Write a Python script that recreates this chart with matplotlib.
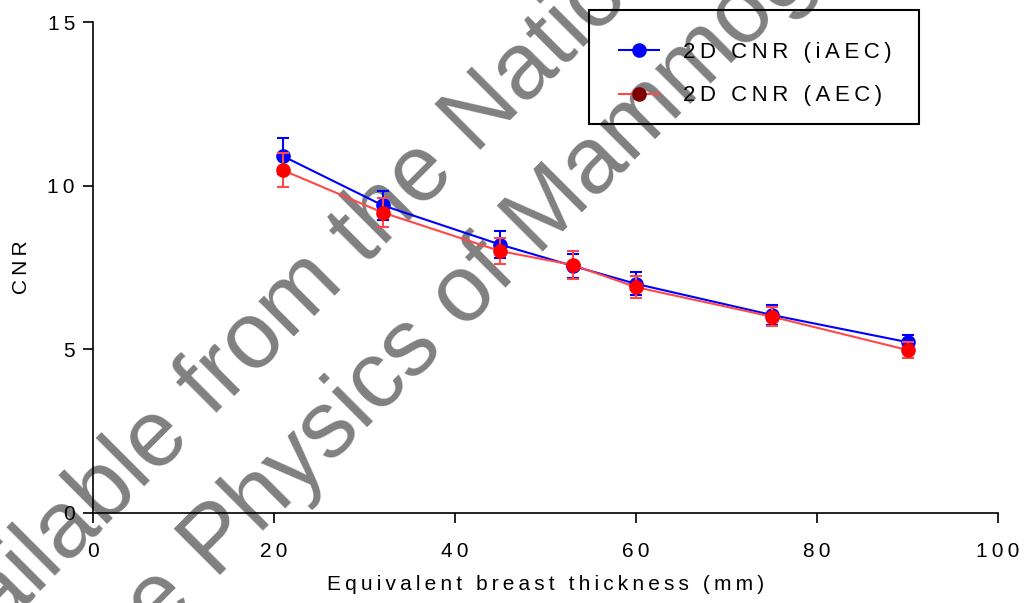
import numpy as np
import matplotlib.pyplot as plt
from matplotlib.lines import Line2D
from matplotlib.patches import Rectangle

plt.rcParams['font.family'] = ['Liberation Sans', 'DejaVu Sans']

# thickness (mm) and CNR values
thickness = [21, 32, 45, 53, 60, 75, 90]
cnr_iaec = [10.9, 9.4, 8.2, 7.55, 7.0, 6.05, 5.22]
err_iaec = [0.55, 0.45, 0.4, 0.36, 0.35, 0.3, 0.22]
cnr_aec = [10.47, 9.18, 8.0, 7.58, 6.9, 6.0, 4.98]
err_aec = [0.52, 0.45, 0.4, 0.42, 0.34, 0.29, 0.23]

xticks = [0, 20, 40, 60, 80, 100]
yticks = [0, 5, 10, 15]


def spaced(s):
    # crude letter spacing with thin spaces
    return '\u2009'.join(s)


def figpt(x, y):
    # pixel position (from top-left) -> figure fraction
    return x / 1024, 1 - y / 603


fig = plt.figure(figsize=(10.24, 6.03), dpi=100)
ax = fig.add_axes([93 / 1024, 1 - 513 / 603, 905 / 1024, 491 / 603])
ax.patch.set_alpha(0)

# watermark, drawn behind the axes
wm = dict(color='#808080', fontsize=68, rotation=45, rotation_mode='anchor',
          va='baseline', zorder=-1)
fig.text(*figpt(212, 419), 'from the National Coordinating Centre', ha='left', **wm)
fig.text(*figpt(193, 438), 'Available', ha='right', **wm)
fig.text(*figpt(215, 580), 'Physics of Mammography', ha='left', **wm)
fig.text(*figpt(196, 599), 'the', ha='right', **wm)

blue = '#0000ff'
red_line = '#ff4848'

ax.errorbar(thickness, cnr_iaec, yerr=err_iaec, color=blue, lw=1.5,
            marker='o', ms=9.5, mfc=blue, mec=blue, ecolor=blue,
            elinewidth=1.5, capsize=4.5, capthick=1.5, zorder=3)
ax.errorbar(thickness, cnr_aec, yerr=err_aec, color=red_line, lw=1.5,
            marker='o', ms=9.5, mfc='#ff0000', mec='#ff0000', ecolor=red_line,
            elinewidth=1.5, capsize=4.5, capthick=1.5, zorder=4)

ax.set_xlim(0, 100)
ax.set_ylim(0, 15)
ax.set_xticks(xticks)
ax.set_yticks(yticks)
ax.set_xticklabels([spaced(str(t)) for t in xticks])
ax.set_yticklabels([spaced(str(t)) for t in yticks])
for side in ['top', 'right']:
    ax.spines[side].set_visible(False)
for side in ['left', 'bottom']:
    ax.spines[side].set_linewidth(1.2)
ax.tick_params(direction='out', length=7, width=1.2, labelsize=15, pad=6)
ax.tick_params(axis='x', pad=14)

ax.set_xlabel(spaced('Equivalent breast thickness (mm)'), fontsize=15, labelpad=10)
ax.set_ylabel(spaced('CNR'), fontsize=15, labelpad=12)

# legend box drawn by hand so the entries can sit where the reference has them
fig.add_artist(Rectangle(figpt(589, 124), 330 / 1024, 114 / 603,
                         transform=fig.transFigure, fill=False,
                         ec='black', lw=1.5, zorder=5))
handles = [
    Line2D([], [], color=blue, lw=1.5, marker='o', ms=9.5, mfc=blue, mec=blue),
    Line2D([], [], color=red_line, lw=1.5, marker='o', ms=9.5, mfc='#800000', mec='#800000'),
]
labels = [spaced('2D CNR (iAEC)'), spaced('2D CNR (AEC)')]
leg = ax.legend(handles, labels, loc='upper left', bbox_to_anchor=figpt(592, 15),
                bbox_transform=fig.transFigure, borderaxespad=0, fontsize=16,
                frameon=False, handlelength=1.8, handletextpad=1.1,
                borderpad=1.2, labelspacing=1.02)

fig.savefig('out.png', dpi=100)
